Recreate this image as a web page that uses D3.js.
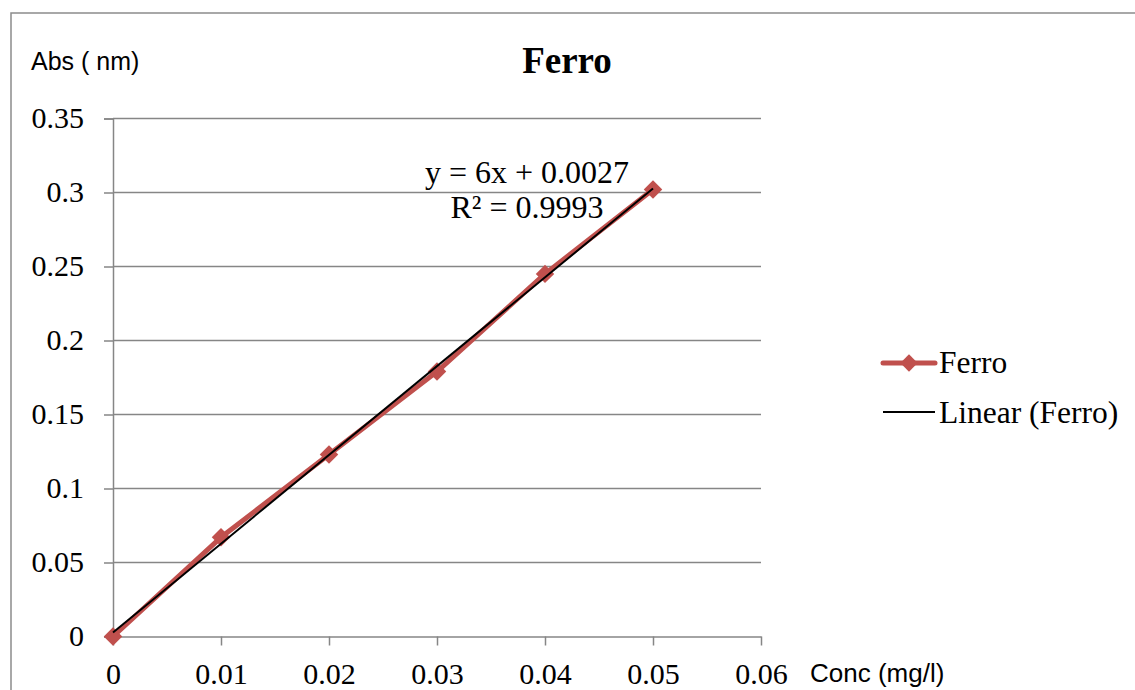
<!DOCTYPE html>
<html>
<head>
<meta charset="utf-8">
<script src="https://cdn.jsdelivr.net/npm/d3@7"></script>
<style>
  html, body { margin: 0; padding: 0; background: #ffffff; }
  svg { display: block; }
  .tick text { font-family: 'Liberation Serif', 'Times New Roman', serif; font-size: 30px; fill: #000; }
</style>
</head>
<body>
<svg id="chart" width="1135" height="690"></svg>
<script>
// Calibration data: absorbance of Ferro standards
const concentrations = [0, 0.01, 0.02, 0.03, 0.04, 0.05];
const absorbance = [0, 0.067, 0.123, 0.179, 0.245, 0.302];
const xTicks = [0, 0.01, 0.02, 0.03, 0.04, 0.05, 0.06];
const yTicks = [0, 0.05, 0.1, 0.15, 0.2, 0.25, 0.3, 0.35];
// Least-squares trendline coefficients shown on the chart
const trendSlope = 6;
const trendIntercept = 0.0027;
const trendR2 = 0.9993;
const seriesName = "Ferro";

const svg = d3.select("#chart");
const W = 1135, H = 690;
const plot = { left: 113, right: 761, top: 118.5, bottom: 636.5 };

const serif = "'Liberation Serif', 'Times New Roman', serif";
const sans = "'Liberation Sans', Arial, sans-serif";
const gridColor = "#868686";
const red = "#C0504D";

svg.append("rect").attr("width", W).attr("height", H).attr("fill", "#fff");

// Chart frame
svg.append("rect")
  .attr("x", 11).attr("y", 13)
  .attr("width", W + 20).attr("height", H + 20)
  .attr("fill", "none").attr("stroke", "#8c8c8c").attr("stroke-width", 1.5);

const x = d3.scaleLinear().domain([0, 0.06]).range([plot.left, plot.right]);
const y = d3.scaleLinear().domain([0, 0.35]).range([plot.bottom, plot.top]);

// Horizontal gridlines
svg.append("g").selectAll("line")
  .data(yTicks.filter(d => d > 0))
  .join("line")
  .attr("x1", plot.left).attr("x2", plot.right)
  .attr("y1", d => y(d)).attr("y2", d => y(d))
  .attr("stroke", gridColor).attr("stroke-width", 1.5);

const fmt = d => String(+d.toFixed(2));

// Y axis
const yAxis = svg.append("g")
  .attr("transform", `translate(${plot.left},0)`)
  .call(d3.axisLeft(y).tickValues(yTicks).tickSize(9).tickPadding(20).tickFormat(fmt));
yAxis.attr("font-family", serif).attr("font-size", 30);
yAxis.select(".domain").attr("stroke", gridColor).attr("stroke-width", 1.5);
yAxis.selectAll(".tick line").attr("stroke", gridColor).attr("stroke-width", 1.5);
yAxis.selectAll(".tick text").attr("dy", "0.3em");

// X axis
const xAxis = svg.append("g")
  .attr("transform", `translate(0,${plot.bottom})`)
  .call(d3.axisBottom(x).tickValues(xTicks).tickSize(9).tickSizeOuter(0).tickPadding(17).tickFormat(fmt));
xAxis.attr("font-family", serif).attr("font-size", 30);
xAxis.select(".domain").attr("stroke", gridColor).attr("stroke-width", 1.5);
xAxis.selectAll(".tick line").attr("stroke", gridColor).attr("stroke-width", 1.5);
xAxis.selectAll(".tick text").attr("dy", "0.71em");

// Data series line
const pts = concentrations.map((c, i) => [c, absorbance[i]]);
svg.append("path")
  .datum(pts)
  .attr("fill", "none").attr("stroke", red).attr("stroke-width", 5)
  .attr("stroke-linejoin", "round")
  .attr("d", d3.line().x(d => x(d[0])).y(d => y(d[1])));

// Diamond markers
const diamond = d3.symbol().type(d3.symbolSquare).size(170);
svg.append("g").selectAll("path")
  .data(pts)
  .join("path")
  .attr("d", diamond)
  .attr("transform", d => `translate(${x(d[0])},${y(d[1])}) rotate(45)`)
  .attr("fill", red);

// Linear trendline
const xMin = d3.min(concentrations), xMax = d3.max(concentrations);
svg.append("path")
  .datum([xMin, xMax])
  .attr("fill", "none").attr("stroke", "#000").attr("stroke-width", 2)
  .attr("d", d3.line().x(d => x(d)).y(d => y(trendSlope * d + trendIntercept)));

// Trendline equation
const eq = svg.append("g").attr("font-family", serif).attr("font-size", 32).attr("fill", "#000").attr("text-anchor", "middle");
eq.append("text").attr("x", 527).attr("y", 183).text(`y = ${trendSlope}x + ${trendIntercept}`);
eq.append("text").attr("x", 527).attr("y", 218).text(`R² = ${trendR2}`);

// Title
svg.append("text")
  .attr("x", 567).attr("y", 73)
  .attr("text-anchor", "middle")
  .attr("font-family", serif).attr("font-weight", "bold").attr("font-size", 37)
  .text(seriesName);

// Axis titles
svg.append("text")
  .attr("x", 31).attr("y", 70)
  .attr("font-family", sans).attr("font-size", 25)
  .text("Abs ( nm)");
svg.append("text")
  .attr("x", 810).attr("y", 682)
  .attr("font-family", sans).attr("font-size", 26)
  .text("Conc (mg/l)");

// Legend
const leg = svg.append("g");
leg.append("line")
  .attr("x1", 883).attr("x2", 935).attr("y1", 363).attr("y2", 363)
  .attr("stroke", red).attr("stroke-width", 5).attr("stroke-linecap", "round");
leg.append("path")
  .attr("d", d3.symbol().type(d3.symbolSquare).size(150))
  .attr("transform", "translate(909,363) rotate(45)")
  .attr("fill", red);
leg.append("text")
  .attr("x", 939).attr("y", 373)
  .attr("font-family", serif).attr("font-size", 31.5)
  .text(seriesName);
leg.append("line")
  .attr("x1", 883).attr("x2", 935).attr("y1", 412).attr("y2", 412)
  .attr("stroke", "#000").attr("stroke-width", 2);
leg.append("text")
  .attr("x", 939).attr("y", 423)
  .attr("font-family", serif).attr("font-size", 31.5)
  .text(`Linear (${seriesName})`);
</script>
</body>
</html>
